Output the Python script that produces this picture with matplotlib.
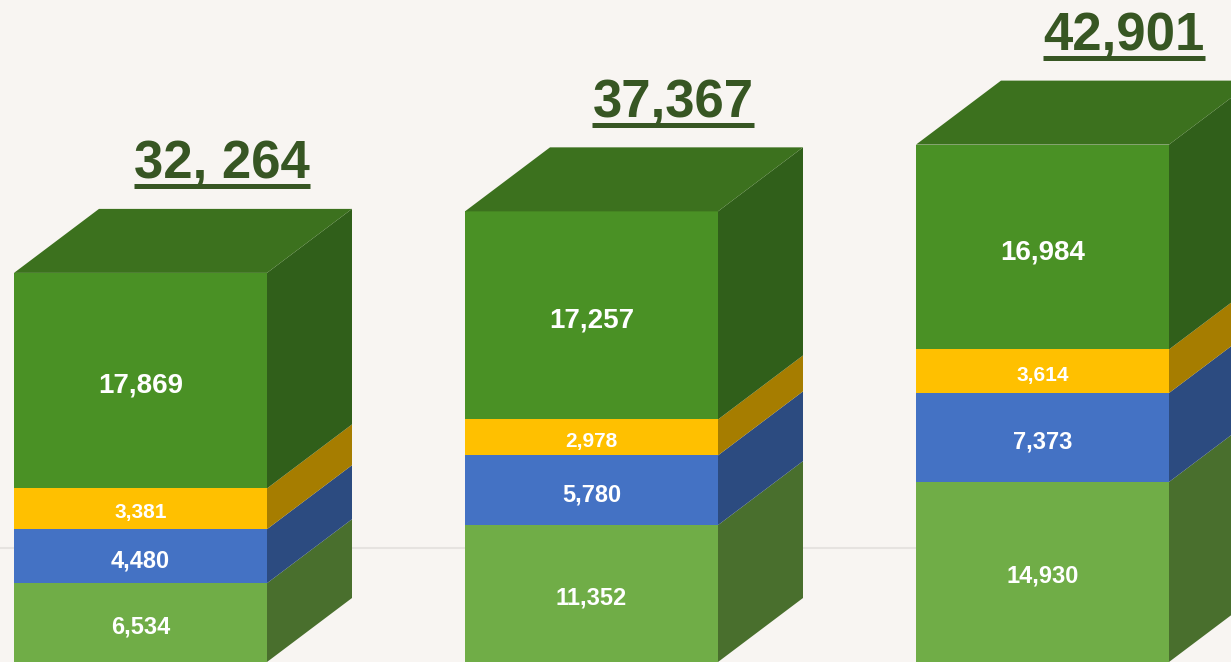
import matplotlib
matplotlib.use("Agg")
import matplotlib.pyplot as plt
from matplotlib.patches import Polygon, Rectangle
from matplotlib.lines import Line2D

# ---- data ----
categories = ["Bar 1", "Bar 2", "Bar 3"]
total_labels = ["32, 264", "37,367", "42,901"]
seg_light_green = [6534, 11352, 14930]
seg_blue = [4480, 5780, 7373]
seg_yellow = [3381, 2978, 3614]
seg_dark_green = [17869, 17257, 16984]

series = [seg_light_green, seg_blue, seg_yellow, seg_dark_green]
front_colors = ["#70AD47", "#4472C4", "#FFC000", "#4A9125"]
side_colors = ["#496F2D", "#2C4B80", "#A67D00", "#305F1A"]
top_color = "#3C711E"
label_sizes = [17, 17, 15, 20]

W, H = 1231, 662
fig = plt.figure(figsize=(W / 100, H / 100), dpi=100)
fig.patch.set_facecolor("#F8F5F2")
ax = fig.add_axes([0, 0, 1, 1])
ax.set_facecolor("#F8F5F2")
px_per_unit = 0.01206
ax.set_xlim(0, W)
ax.set_ylim(0, H / px_per_unit)
ax.axis("off")

# floor line
floor_y = (H - 548) / px_per_unit
ax.add_line(Line2D([0, W], [floor_y, floor_y], color="#E6E3E0", lw=1.5, zorder=0))

bar_w = 253
x_first = 14
x_step = 451
dx = 85
dy = 64 / px_per_unit

texts = []
for i, cat in enumerate(categories):
    x0 = x_first + i * x_step
    bottom = 0
    for s, vals in enumerate(series):
        v = vals[i]
        top = bottom + v
        ax.add_patch(Rectangle((x0, bottom), bar_w, v, facecolor=front_colors[s],
                               edgecolor="none", zorder=2))
        ax.add_patch(Polygon([(x0 + bar_w, bottom), (x0 + bar_w + dx, bottom + dy),
                              (x0 + bar_w + dx, top + dy), (x0 + bar_w, top)],
                             closed=True, facecolor=side_colors[s], edgecolor="none", zorder=2))
        if s == len(series) - 1:
            ax.add_patch(Polygon([(x0, top), (x0 + dx, top + dy),
                                  (x0 + bar_w + dx, top + dy), (x0 + bar_w, top)],
                                 closed=True, facecolor=top_color, edgecolor="none", zorder=2))
        ax.text(x0 + bar_w / 2, (bottom + top) / 2 - 2 / px_per_unit, f"{v:,}", color="white",
                fontsize=label_sizes[s], fontweight="bold", family="Liberation Sans",
                ha="center", va="center_baseline", zorder=3)
        bottom = top
    total = bottom
    ty = total + 94 / px_per_unit
    t = ax.text(x0 + 208, ty, total_labels[i], color="#375623", fontsize=38,
                fontweight="bold", family="Liberation Sans", ha="center",
                va="baseline", zorder=3)
    texts.append((t, ty))

fig.canvas.draw()
renderer = fig.canvas.get_renderer()
inv = ax.transData.inverted()
for t, ty in texts:
    bb = t.get_window_extent(renderer)
    (xa, _), (xb, _) = inv.transform([(bb.x0, 0), (bb.x1, 0)])
    uy = ty - 7.5 / px_per_unit
    ax.add_line(Line2D([xa, xb], [uy, uy], color="#375623", lw=3.6,
                       solid_capstyle="butt", zorder=3))

fig.savefig("out.png", dpi=100, facecolor=fig.get_facecolor())
